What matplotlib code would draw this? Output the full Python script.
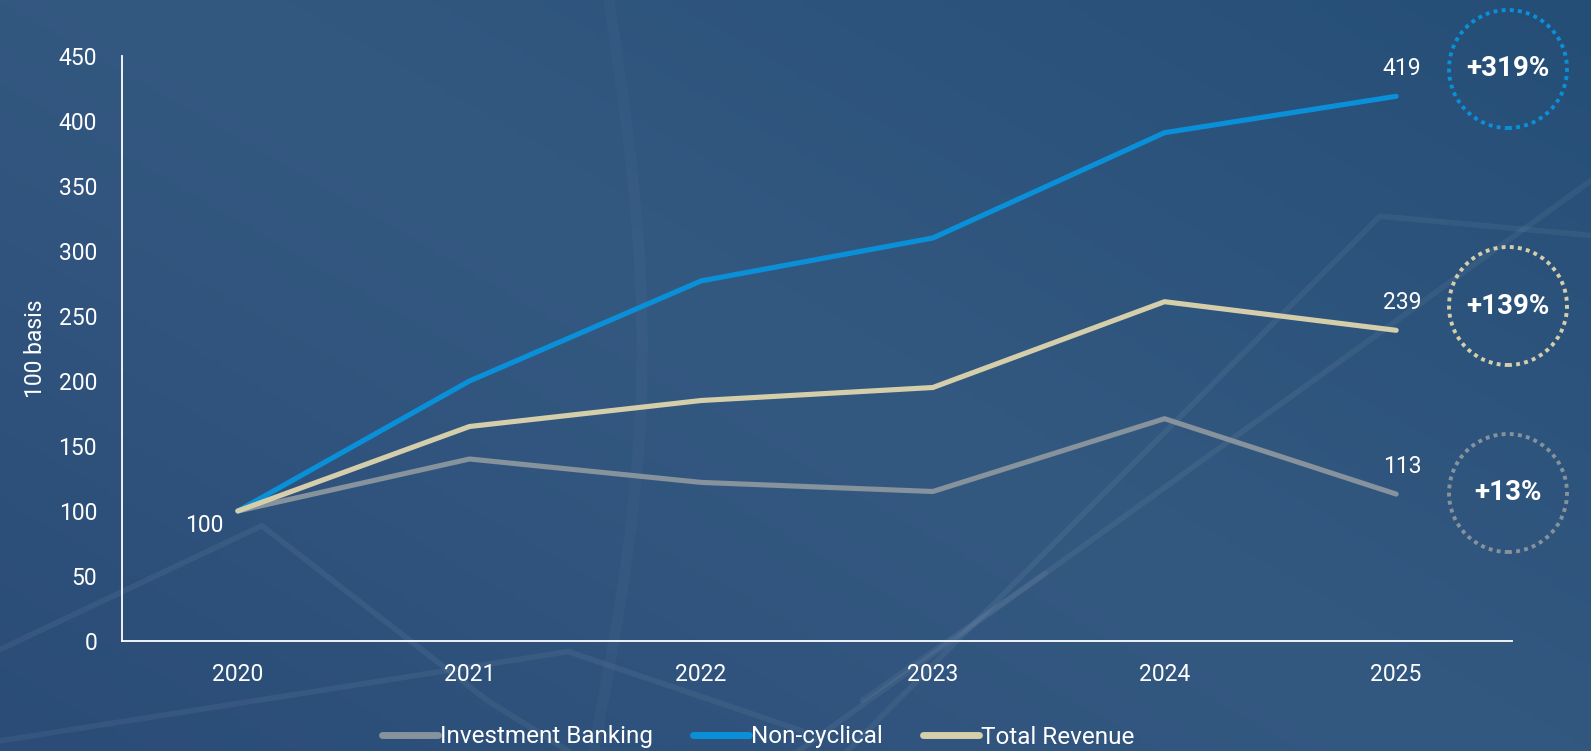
import numpy as np
import matplotlib
matplotlib.use("Agg")
import matplotlib.pyplot as plt
from matplotlib.patches import Ellipse
from matplotlib.lines import Line2D

plt.rcParams['font.family'] = ['Roboto', 'DejaVu Sans']

# Indexed revenue development, 2020 = 100
years = ['2020', '2021', '2022', '2023', '2024', '2025']
investment_banking = [100, 140, 122, 115, 171, 113]
non_cyclical = [100, 200, 277, 310, 391, 419]
total_revenue = [100, 165, 185, 195, 261, 239]

series_names = ['Investment Banking', 'Non-cyclical', 'Total Revenue']
series_values = [investment_banking, non_cyclical, total_revenue]
series_colors = ['#86929c', '#0a90d8', '#d5ceab']

y_ticks = [0, 50, 100, 150, 200, 250, 300, 350, 400, 450]
y_label = '100 basis'

W, H = 1591, 751
fig = plt.figure(figsize=(W / 100, H / 100), dpi=100)

# background: soft diagonal blue gradient
bg = fig.add_axes([0, 0, 1, 1], zorder=-10)
gx, gy = np.meshgrid(np.linspace(0, 1, 400), np.linspace(0, 1, 200))
t = 0.55 * gx + 0.45 * (1 - gy)
c0 = np.array([0x2a, 0x4c, 0x77]) / 255
c1 = np.array([0x34, 0x59, 0x81]) / 255
c2 = np.array([0x25, 0x4e, 0x77]) / 255
w = np.clip(t * 2, 0, 1)[..., None]
w2 = np.clip(t * 2 - 1, 0, 1)[..., None]
img = np.where(t[..., None] < 0.5, c0 * (1 - w) + c1 * w, c1 * (1 - w2) + c2 * w2)
bg.imshow(img, extent=[0, 1, 0, 1], aspect='auto', origin='upper')

# faint decorative strokes behind the chart
decor = [
    [(0, 640), (258, 518), (480, 690), (560, 740)],
    [(0, 730), (560, 642), (790, 720)],
    [(780, 745), (1568, 178)],
    [(830, 745), (1360, 213), (1568, 232)],
    [(850, 690), (1030, 565)],
]
for pts in decor:
    xs = [p[0] / 1568 for p in pts]
    ys = [1 - p[1] / 740 for p in pts]
    bg.plot(xs, ys, color='white', alpha=0.055, lw=4, solid_capstyle='round')
arc_y = np.linspace(0, 740, 100)
arc_x = 600 + 40 * np.sin(np.pi * arc_y / 740) - 15 * arc_y / 740
bg.plot(arc_x / 1568, 1 - arc_y / 740, color='white', alpha=0.025, lw=8)
bg.set_xlim(0, 1)
bg.set_ylim(0, 1)
bg.axis('off')

ax = fig.add_axes([122 / W, 1 - 641 / H, (1512 - 122) / W, (641 - 56) / H])
ax.patch.set_alpha(0)

x = np.arange(len(years))
for name, vals, col in zip(series_names, series_values, series_colors):
    ax.plot(x, vals, color=col, lw=3.7, solid_capstyle='round',
            solid_joinstyle='round', label=name)

ax.set_xlim(-0.5, len(years) - 0.5)
ax.set_ylim(0, 450)
ax.set_xticks(x)
ax.set_xticklabels(years)
ax.set_yticks(y_ticks)
ax.tick_params(length=0, labelsize=16.5, colors='white')
ax.tick_params(axis='x', pad=16)
ax.tick_params(axis='y', pad=18)
ax.set_ylabel(y_label, color='white', fontsize=16.5, labelpad=8)
for side in ['top', 'right']:
    ax.spines[side].set_visible(False)
for side in ['left', 'bottom']:
    ax.spines[side].set_color('white')
    ax.spines[side].set_linewidth(1.3)

# start value and end values
ax.annotate(str(non_cyclical[0]), (0, non_cyclical[0]), xytext=(-14, -14),
            textcoords='offset pixels', ha='right', va='center',
            color='white', fontsize=16.5)
for vals in series_values:
    ax.annotate(str(vals[-1]), (x[-1], vals[-1]), xytext=(6, 28),
                textcoords='offset pixels', ha='center', va='center',
                color='white', fontsize=16.5)

# growth bubbles on the right
bubble_y = [69, 306, 493]
order = [1, 2, 0]
r = 59
for yy, idx in zip(bubble_y, order):
    vals = series_values[idx]
    growth = round((vals[-1] / vals[0] - 1) * 100)
    cx, cy = 1508 / W, 1 - yy / H
    fig.patches.append(Ellipse((cx, cy), 2 * r / W, 2 * r / H,
                               transform=fig.transFigure, fill=False,
                               edgecolor=series_colors[idx], lw=2.8,
                               linestyle=(0, (1, 1.1))))
    fig.text(cx, cy, f'+{growth}%', ha='center', va='center',
             color='white', fontsize=20, fontweight='bold')

# legend
handles = [Line2D([0], [0], color=c, lw=5, solid_capstyle='round')
           for c in series_colors]
fig.legend(handles, series_names, loc='center', bbox_to_anchor=(0.4765, 1 - 737 / H),
           ncol=3, frameon=False, fontsize=17.5, labelcolor='white',
           handlelength=2.3, handletextpad=0.08, columnspacing=1.65)

fig.savefig('out.png', dpi=100)
